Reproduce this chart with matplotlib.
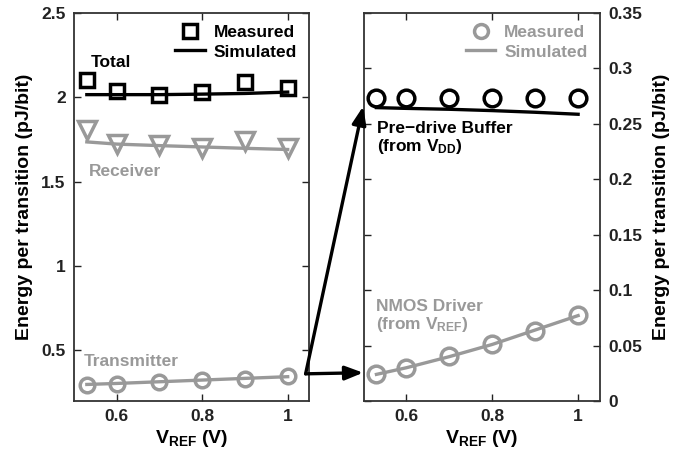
import matplotlib
matplotlib.use("Agg")
import matplotlib.pyplot as plt
from matplotlib.lines import Line2D
from matplotlib.patches import ConnectionPatch

plt.rcParams['font.family'] = ['Liberation Sans', 'DejaVu Sans']
plt.rcParams['font.weight'] = 'bold'
plt.rcParams['axes.labelweight'] = 'bold'
plt.rcParams['mathtext.fontset'] = 'custom'
plt.rcParams['mathtext.rm'] = 'Liberation Sans:bold'
plt.rcParams['mathtext.bf'] = 'Liberation Sans:bold'
plt.rcParams['mathtext.it'] = 'Liberation Sans:bold'

GRIS = '#999999'

vref = [0.53, 0.6, 0.7, 0.8, 0.9, 1.0]

# painel da esquerda (pJ/bit)
total_med = [2.10, 2.034, 2.014, 2.028, 2.087, 2.056]
total_sim = [2.015, 2.015, 2.015, 2.018, 2.022, 2.03]
rx_med = [1.806, 1.723, 1.717, 1.70, 1.742, 1.70]
rx_sim = [1.735, 1.722, 1.713, 1.705, 1.697, 1.69]
tx_med = [0.296, 0.302, 0.312, 0.326, 0.333, 0.347]
tx_sim = [0.298, 0.304, 0.314, 0.324, 0.334, 0.344]

# painel da direita (pJ/bit)
pre_med = [0.273, 0.273, 0.273, 0.273, 0.273, 0.273]
pre_sim = [0.2645, 0.2638, 0.263, 0.2618, 0.2603, 0.2585]
nmos_med = [0.0246, 0.030, 0.0404, 0.0515, 0.0635, 0.0778]
nmos_sim = [0.024, 0.030, 0.040, 0.051, 0.064, 0.077]

fig = plt.figure(figsize=(6.86, 4.53), dpi=100)
axE = fig.add_axes([0.1079, 0.1148, 0.3426, 0.857])
axD = fig.add_axes([0.530, 0.1148, 0.344, 0.857])

lw = 2.4
mew = 2.5
fs = 12.5

def estilo(ax, yt, ytl):
    ax.set_xlim(0.5, 1.05)
    ax.set_xticks([0.6, 0.8, 1.0])
    ax.set_xticklabels(['0.6', '0.8', '1'], fontweight='bold')
    ax.set_yticks(yt)
    ax.set_yticklabels(ytl, fontweight='bold')
    ax.tick_params(direction='in', length=5, width=1, top=True, right=True,
                   labelsize=fs, colors='#222222', pad=6)
    for s in ax.spines.values():
        s.set_linewidth(1.3)
        s.set_color('#333333')
    ax.set_xlabel(r'V$_\mathbf{REF}$ (V)', fontsize=14, labelpad=3)

# esquerda
axE.plot(vref, total_sim, '-', color='black', lw=lw)
axE.plot(vref, total_med, 's', color='black', mfc='none', ms=10, mew=mew)
axE.plot(vref, rx_sim, '-', color=GRIS, lw=lw)
axE.plot(vref, rx_med, 'v', color=GRIS, mfc='none', ms=13, mew=mew)
axE.plot(vref, tx_sim, '-', color=GRIS, lw=lw)
axE.plot(vref, tx_med, 'o', color=GRIS, mfc='none', ms=10.5, mew=mew)
axE.set_ylim(0.2, 2.5)
estilo(axE, [0.5, 1, 1.5, 2, 2.5], ['0.5', '1', '1.5', '2', '2.5'])
axE.set_ylabel('Energy per transition (pJ/bit)', fontsize=14, labelpad=6)

axE.text(0.539, 2.207, 'Total', color='black', fontsize=fs, va='center')
axE.text(0.535, 1.558, 'Receiver', color=GRIS, fontsize=fs, va='center')
axE.text(0.523, 0.436, 'Transmitter', color=GRIS, fontsize=fs, va='center')

hE = [Line2D([], [], marker='s', ls='none', color='black', mfc='none', ms=10, mew=mew),
      Line2D([], [], ls='-', color='black', lw=lw)]
axE.legend(hE, ['Measured', 'Simulated'], loc='upper right', frameon=False,
           fontsize=fs, handlelength=1.7, handletextpad=0.5, labelspacing=0.25,
           borderaxespad=0.3)

# direita
axD.plot(vref, pre_sim, '-', color='black', lw=lw)
axD.plot(vref, pre_med, 'o', color='black', mfc='none', ms=12, mew=mew)
axD.plot(vref, nmos_sim, '-', color=GRIS, lw=lw)
axD.plot(vref, nmos_med, 'o', color=GRIS, mfc='none', ms=12, mew=mew)
axD.set_ylim(0, 0.35)
estilo(axD, [0, 0.05, 0.1, 0.15, 0.2, 0.25, 0.3, 0.35],
       ['0', '0.05', '0.1', '0.15', '0.2', '0.25', '0.3', '0.35'])
axD.yaxis.tick_right()
axD.yaxis.set_label_position('right')
axD.tick_params(left=True, right=True)
axD.set_ylabel('Energy per transition (pJ/bit)', fontsize=14, labelpad=8)

axD.text(0.532, 0.2459, 'Pre\u2212drive Buffer', color='black', fontsize=fs, va='center')
axD.text(0.532, 0.229, r'(from V$_\mathbf{DD}$)', color='black', fontsize=fs, va='center')
axD.text(0.530, 0.0853, 'NMOS Driver', color=GRIS, fontsize=fs, va='center')
axD.text(0.530, 0.0689, r'(from V$_\mathbf{REF}$)', color=GRIS, fontsize=fs, va='center')

hD = [Line2D([], [], marker='o', ls='none', color=GRIS, mfc='none', ms=10, mew=mew),
      Line2D([], [], ls='-', color=GRIS, lw=lw)]
axD.legend(hD, ['Measured', 'Simulated'], loc='upper right', frameon=False,
           fontsize=fs, handlelength=1.7, handletextpad=0.5, labelspacing=0.25,
           borderaxespad=0.3, labelcolor=GRIS)

# setas ligando o transmissor aos componentes
origem = (1.042, 0.361)
for destino in [(0.499, 0.2656), (0.499, 0.0255)]:
    seta = ConnectionPatch(xyA=origem, coordsA=axE.transData,
                           xyB=destino, coordsB=axD.transData,
                           arrowstyle='-|>,head_length=0.9,head_width=0.35',
                           lw=2.4, color='black', shrinkA=0, shrinkB=0,
                           mutation_scale=12)
    fig.add_artist(seta)

fig.savefig('out.png', dpi=100)
